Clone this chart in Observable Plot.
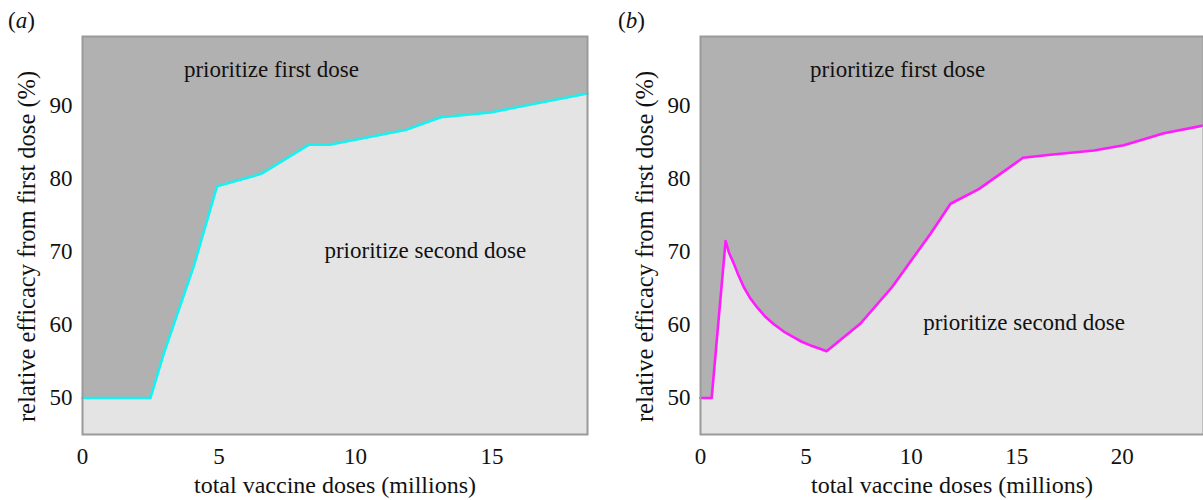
<!DOCTYPE html>
<html><head><meta charset="utf-8">
<script src="https://cdn.jsdelivr.net/npm/d3@7"></script>
<script src="https://cdn.jsdelivr.net/npm/@observablehq/plot@0.6"></script>
<style>
body{margin:0;background:#fff}
#wrap{position:relative;width:1203px;height:500px;overflow:hidden;font-family:"Liberation Serif",serif}
.panel{position:absolute;top:0}
.tag{position:absolute;font-size:23px;color:#111;line-height:1}
</style></head><body>
<div id="wrap"></div>
<script>
// Panel (a)
const dosesA = [0, 2.49, 2.98, 4.08, 4.93, 6.55, 8.30, 9.10, 11.83, 13.13, 14.95, 18.5];
const efficacyA = [50, 50, 56.1, 68.1, 79.0, 80.7, 84.7, 84.7, 86.7, 88.45, 89.1, 91.7];
// Panel (b)
const dosesB = [0, 0.53, 1.19, 1.35, 1.58, 1.8, 2.05, 2.35, 2.69, 3.05, 3.48, 3.95, 4.43, 4.8, 5.22, 5.6, 5.98, 7.59, 9.09, 10.91, 11.86, 13.2, 15.3, 16.6, 18.66, 20.08, 21.98, 23.86];
const efficacyB = [50, 50, 71.5, 69.9, 68.4, 66.8, 65.2, 63.7, 62.4, 61.2, 60.1, 59.1, 58.3, 57.7, 57.2, 56.8, 56.4, 60.2, 65.2, 72.5, 76.6, 78.6, 82.9, 83.3, 83.9, 84.6, 86.25, 87.3];

const yTicks = [50, 60, 70, 80, 90];
const xTicksA = [0, 5, 10, 15];
const xTicksB = [0, 5, 10, 15, 20];
const panelTags = ["a", "b"];
const firstLabel = "prioritize first dose";
const secondLabel = "prioritize second dose";
const xLabel = "total vaccine doses (millions)";
const yLabel = "relative efficacy from first dose (%)";

const DARK = "#b1b1b1", LIGHT = "#e4e4e4", EDGE = "#9a9a9a";
const Y_DOMAIN = [45, 99.5];

function panel({doses, eff, xDomain, xTicks, color, width, marginLeft, marginRight, first, second}) {
  const data = doses.map((d, i) => ({x: d, y: eff[i]}));
  return Plot.plot({
    width, height: 500,
    marginLeft, marginRight, marginTop: 36, marginBottom: 66,
    style: {fontFamily: "'Liberation Serif', serif", fontSize: "23px", color: "#111", background: "transparent", overflow: "visible"},
    x: {domain: xDomain, ticks: xTicks, tickSize: 0, tickPadding: 13, label: null, tickFormat: d => String(d)},
    y: {domain: Y_DOMAIN, ticks: yTicks, tickSize: 0, tickPadding: 10, label: null, tickFormat: d => String(d)},
    marks: [
      Plot.frame({fill: DARK}),
      Plot.areaY(data, {x: "x", y1: Y_DOMAIN[0], y2: "y", fill: LIGHT}),
      Plot.line(data, {x: "x", y: "y", stroke: color, strokeWidth: 2.6}),
      Plot.frame({stroke: EDGE, strokeWidth: 2}),
      Plot.text([firstLabel], {x: first[0], y: first[1], fontSize: 23, fill: "#111"}),
      Plot.text([secondLabel], {x: second[0], y: second[1], fontSize: 23, fill: "#111"}),
      Plot.text([xLabel], {frameAnchor: "bottom", textAnchor: "middle", lineAnchor: "middle", dy: 51, fontSize: 24, fill: "#111"}),
      Plot.text([yLabel], {frameAnchor: "left", textAnchor: "middle", lineAnchor: "middle", rotate: -90, dx: -55, dy: 11, fontSize: 24.5, fill: "#111"}),
      Plot.axisX({ticks: xTicks, tickSize: 0, tickPadding: 13, label: null, tickFormat: d => String(d)}),
      Plot.axisY({ticks: yTicks, tickSize: 0, tickPadding: 10, label: null, tickFormat: d => String(d)})
    ]
  });
}

const wrap = document.getElementById("wrap");
const a = panel({doses: dosesA, eff: efficacyA, xDomain: [0, 18.5], xTicks: xTicksA, color: "#14f2f2",
  width: 600, marginLeft: 82, marginRight: 13, first: [6.92, 95.0], second: [12.56, 70.2]});
a.classList.add("panel"); a.style.left = "0px";
wrap.appendChild(a);
const b = panel({doses: dosesB, eff: efficacyB, xDomain: [0, 23.86], xTicks: xTicksB, color: "#ff1aff",
  width: 603, marginLeft: 100, marginRight: 0, first: [9.35, 95.0], second: [15.35, 60.3]});
b.classList.add("panel"); b.style.left = "600px";
wrap.appendChild(b);

[[panelTags[0], 8], [panelTags[1], 618]].forEach(([t, left]) => {
  const d = document.createElement("div");
  d.className = "tag";
  d.style.left = left + "px";
  d.style.top = "9px";
  d.innerHTML = "(<i>" + t + "</i>)";
  wrap.appendChild(d);
});
</script>
</body></html>
